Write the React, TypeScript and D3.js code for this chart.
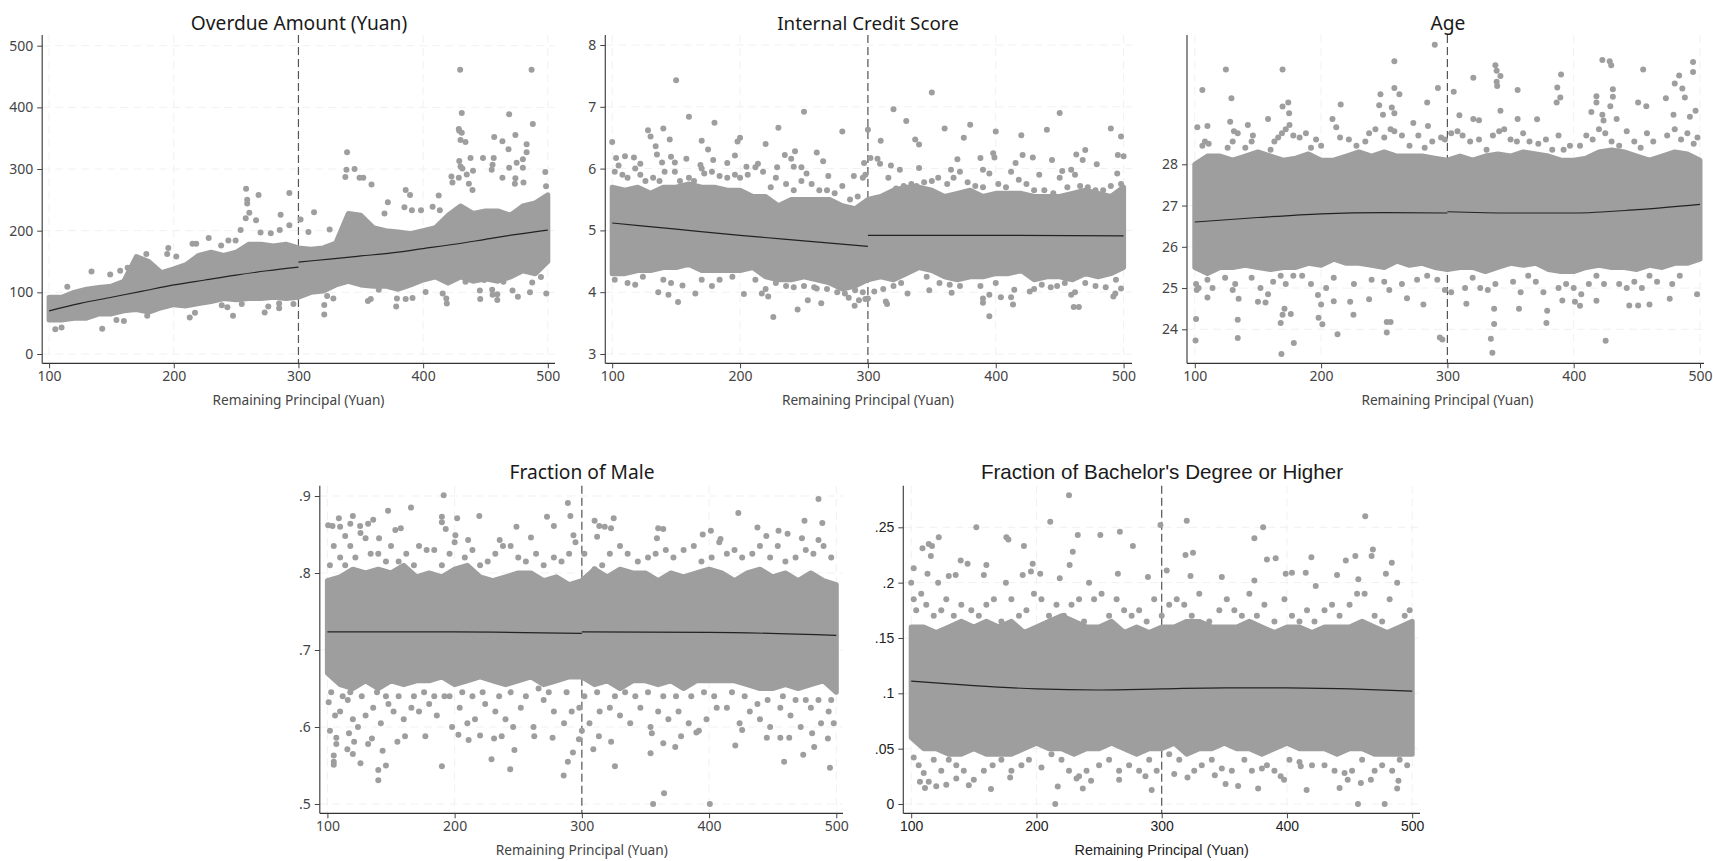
import React, { useEffect, useRef } from "react"
import * as d3 from "d3"

type Pt = [number, number]

const xTicks = [100, 200, 300, 400, 500]
const xLabel = "Remaining Principal (Yuan)"

const bandX = [100, 110, 120, 130, 140, 150, 160, 170, 180, 190, 200, 210, 220, 230, 240, 250, 260, 270, 280, 290, 300, 310, 320, 330, 340, 350, 360, 370, 380, 390, 400, 410, 420, 430, 440, 450, 460, 470, 480, 490, 500]

// ---- Overdue amount
const overdueTicks = [0, 100, 200, 300, 400, 500]
const overdueTickLabels = ["0", "100", "200", "300", "400", "500"]
const overdueBandHi = [92, 92, 100, 105, 108, 110, 118, 158, 150, 132, 138, 145, 160, 165, 160, 165, 178, 178, 175, 178, 172, 170, 172, 180, 228, 225, 205, 200, 198, 195, 200, 205, 225, 240, 228, 232, 232, 225, 240, 245, 258]
const overdueBandLo = [55, 55, 58, 58, 65, 65, 70, 72, 68, 75, 80, 78, 82, 85, 90, 88, 90, 90, 92, 90, 92, 100, 102, 112, 118, 112, 110, 110, 105, 112, 120, 125, 115, 125, 118, 122, 118, 125, 135, 130, 150]
const overdueFitL: Pt[] = [[100, 70], [125, 82], [150, 92], [175, 102], [200, 112], [225, 120], [250, 128], [275, 135], [300, 141]]
const overdueFitR: Pt[] = [[300, 149], [325, 154], [350, 159], [375, 164], [400, 171], [425, 178], [450, 186], [475, 194], [500, 201]]
const overduePts: Pt[] = [
  [429.7, 461], [487, 461], [431, 391], [469, 389], [488, 373], [428.6, 365], [429, 362], [431, 359], [474, 355], [457, 352], [463.6, 345], [430, 347], [434, 344], [483, 340], [468.5, 332], [483, 327], [339, 327], [438, 318], [448, 318], [456.6, 318], [480, 316], [429, 313], [475, 310], [455.7, 307], [430, 304], [469, 302], [455, 299], [480, 302], [431.5, 301], [338.5, 299], [345, 300], [440, 297], [498, 295], [435, 291], [337.6, 287], [422.7, 288], [428.6, 286], [463.6, 286], [349, 286], [352, 286], [474, 285], [480.5, 278], [423.5, 278], [358.6, 275], [436.7, 276], [473.6, 276], [439.6, 266], [258, 268], [268, 258], [292.7, 261], [386, 266], [389.5, 258], [412.5, 257], [498.6, 272], [258.9, 250], [258.9, 244], [260.6, 229], [312.5, 230], [285.7, 226], [257.7, 220], [266, 217], [301.7, 218], [371.7, 246], [385, 238], [369, 228], [391, 233], [398.3, 233], [407.6, 239], [413.4, 233], [325, 202], [308, 198], [253.6, 201], [269.6, 197], [277.8, 196], [285, 201], [292.7, 209], [228, 188], [215, 179], [218, 179], [195.6, 172], [238, 176], [243.8, 184], [249.6, 184], [134, 134], [149, 129], [114.6, 109], [157, 135], [163, 140], [178, 162], [194.7, 162], [202, 158],
  [105, 40], [110, 43], [142.6, 41], [154, 55], [160, 53.5], [178.7, 62], [212.8, 59], [217, 67], [238.5, 79], [243, 76], [247.5, 62], [254.5, 81], [272.9, 67.5], [275.8, 77], [284.5, 74], [284.5, 82], [296, 81], [320.7, 64], [320.7, 79.5], [323, 94], [328, 90], [355.7, 86], [358, 89], [364.4, 104], [378.4, 77], [379, 90], [386, 89], [391.5, 91], [402, 100.5], [419, 82], [418.6, 90], [415.7, 98], [445.8, 89], [445.5, 103], [455.4, 104], [455.7, 96], [459.5, 87.6], [459.5, 97], [471.7, 103], [476, 93], [485.7, 100], [498.8, 98], [487.5, 116], [494.5, 125], [464.4, 117], [449, 120], [434, 117],
]

// ---- Internal credit score
const creditTicks = [3, 4, 5, 6, 7, 8]
const creditTickLabels = ["3", "4", "5", "6", "7", "8"]
const creditBandHi = [5.7, 5.65, 5.7, 5.6, 5.7, 5.7, 5.75, 5.7, 5.7, 5.65, 5.65, 5.55, 5.55, 5.4, 5.5, 5.5, 5.5, 5.5, 5.4, 5.35, 5.5, 5.55, 5.65, 5.7, 5.7, 5.65, 5.55, 5.6, 5.65, 5.55, 5.6, 5.6, 5.6, 5.55, 5.55, 5.55, 5.6, 5.65, 5.6, 5.55, 5.7]
const creditBandLo = [4.3, 4.3, 4.35, 4.35, 4.4, 4.4, 4.45, 4.35, 4.35, 4.35, 4.35, 4.4, 4.25, 4.2, 4.2, 4.25, 4.2, 4.15, 4.05, 4.1, 4.2, 4.25, 4.2, 4.3, 4.4, 4.35, 4.25, 4.2, 4.25, 4.25, 4.3, 4.3, 4.35, 4.2, 4.25, 4.25, 4.2, 4.3, 4.25, 4.3, 4.4]
const creditFitL: Pt[] = [[100, 5.12], [150, 5.02], [200, 4.92], [250, 4.83], [300, 4.74]]
const creditFitR: Pt[] = [[300, 4.92], [400, 4.92], [500, 4.91]]
const creditPts: Pt[] = [
  [100, 6.43], [150, 7.43], [160, 6.84], [180, 6.74], [250, 6.92], [280, 6.6], [300, 6.63], [230, 6.66], [128, 6.62], [140, 6.65], [130, 6.52], [145, 6.47], [170, 6.45], [200, 6.5], [198, 6.44], [220, 6.4], [134, 6.36], [175, 6.31], [135, 6.23], [235, 6.22], [243, 6.28], [260, 6.26], [240, 6.16], [196, 6.21], [146, 6.19], [158, 6.16], [110, 6.2], [117, 6.18], [103, 6.17], [179, 6.14], [139, 6.1], [149, 6.1], [190, 6.09], [265, 6.12], [205, 6.03], [214, 6.08], [229, 6.02], [242, 6.03], [248, 6.02], [169, 6.06], [122, 6.08], [269, 5.88], [289, 5.88], [297, 6.09],
  [136, 4], [144, 3.96], [151.5, 3.84], [155, 4.11], [165, 3.98], [203, 3.97], [217, 3.98], [222, 3.93], [226, 3.6], [245, 3.72], [253, 3.87], [263.5, 3.82], [260, 4.06], [289.6, 3.78], [293, 3.87], [298, 3.89], [285, 3.91],
  [310, 6.45], [320, 6.96], [330, 6.77], [350, 7.23], [337, 6.47], [340, 6.39], [360, 6.65], [380, 6.71], [375, 6.5], [400, 6.6], [420, 6.54], [440, 6.63], [450, 6.9], [490, 6.65], [498, 6.52], [500, 6.2], [495.5, 6.22], [470, 6.3], [463, 6.23], [468, 6.14], [421, 6.22], [429, 6.18], [444, 6.14], [479, 6.07], [415.5, 6.09], [388, 6.17], [398, 6.25], [399, 6.18], [307.5, 6.16], [302, 6.17], [309.5, 6.08], [318, 6.05], [325, 5.98], [340, 6.01], [370, 6.15], [365, 5.98], [390, 5.98], [452, 5.96], [459, 5.98],
  [300, 3.9], [305, 4.01], [314, 3.85], [315, 3.81], [331, 3.98], [348, 4.03], [365.5, 3.99], [390, 3.9], [390, 3.83], [395, 3.96], [395, 3.61], [404, 3.92], [412, 3.92], [413.5, 3.8], [414.5, 4.04], [426.6, 4.01], [461, 3.76], [465, 3.76], [443, 4.08], [459, 3.96], [492, 3.93], [493.5, 3.98], [498, 4.06],
  [102, 5.95], [105, 6.05], [108, 5.9], [112, 5.85], [118, 6], [122, 5.9], [126, 5.8], [132, 5.85], [137, 5.8], [141, 5.95], [149, 5.95], [153, 5.8], [160, 5.85], [164, 5.8], [170, 6], [172, 5.92], [178, 5.95], [184, 5.88], [190, 5.85], [196, 5.9], [200, 5.85], [206, 5.9], [212, 6.02], [218, 5.95], [224, 5.7], [228, 5.85], [236, 5.75], [242, 5.65], [248, 5.8], [252, 5.92], [256, 5.75], [262, 5.65], [268, 5.65], [274, 5.6], [280, 5.72], [286, 5.5], [292, 5.55], [296, 5.85], [298, 5.9],
  [316, 5.85], [322, 5.68], [328, 5.72], [334, 5.75], [338, 5.72], [344, 5.78], [350, 5.8], [355, 5.85], [362, 5.75], [367, 5.85], [372, 5.95], [378, 5.78], [384, 5.72], [390, 5.7], [395, 5.92], [402, 5.75], [408, 5.7], [412, 5.95], [418, 5.82], [424, 5.75], [430, 5.65], [434, 5.9], [438, 5.65], [445, 5.6], [450, 5.85], [456, 5.7], [462, 5.9], [466, 5.72], [472, 5.7], [478, 5.65], [484, 5.65], [490, 5.72], [495, 5.92], [498, 5.75],
  [102, 4.2], [112, 4.15], [118, 4.12], [124, 4.25], [140, 4.2], [146, 4.15], [170, 4.2], [178, 4.1], [184, 4.2], [194, 4.25], [212, 4.2], [220, 4.05], [228, 4.15], [236, 4.1], [242, 4.08], [250, 4.1], [258, 4.08], [268, 4.05], [276, 4], [282, 3.98], [290, 4.03], [296, 4], [312, 4.05], [320, 4.1], [326, 4.15], [346, 4.25], [356, 4.15], [364, 4.12], [372, 4.1], [388, 4.1], [400, 4.15], [430, 4.05], [436, 4.12], [448, 4.1], [454, 4.15], [462, 4], [470, 4.15], [478, 4.1], [486, 4.08], [494, 4.2],
]

// ---- Age
const ageTicks = [24, 25, 26, 27, 28]
const ageTickLabels = ["24", "25", "26", "27", "28"]
const ageBandHi = [28, 28.2, 28.2, 28.1, 28.2, 28.3, 28.2, 28.1, 28.15, 28.25, 28.1, 28.1, 28.2, 28.3, 28.2, 28.3, 28.2, 28.2, 28.2, 28.15, 28.1, 28.2, 28.1, 28.2, 28.25, 28.2, 28.3, 28.25, 28.2, 28.1, 28.1, 28.15, 28.3, 28.35, 28.3, 28.2, 28.1, 28.2, 28.3, 28.25, 28.1]
const ageBandLo = [25.5, 25.35, 25.5, 25.5, 25.55, 25.5, 25.45, 25.5, 25.5, 25.6, 25.55, 25.7, 25.6, 25.6, 25.55, 25.5, 25.65, 25.55, 25.6, 25.5, 25.45, 25.5, 25.5, 25.4, 25.5, 25.6, 25.55, 25.6, 25.45, 25.4, 25.4, 25.5, 25.55, 25.5, 25.5, 25.45, 25.55, 25.5, 25.6, 25.6, 25.7]
const ageFitL: Pt[] = [[100, 26.6], [150, 26.71], [200, 26.8], [250, 26.83], [300, 26.82]]
const ageFitR: Pt[] = [[300, 26.85], [350, 26.82], [400, 26.82], [450, 26.9], [500, 27.03]]
const agePts: Pt[] = [
  [290, 30.9], [258, 30.5], [124.6, 30.3], [169.5, 30.3], [106, 29.8], [129, 29.6], [169.5, 29.4], [174, 29.5], [215.5, 29.45], [247, 29.7], [258, 29.85], [262, 29.7], [292.5, 29.85], [284, 29.5], [246, 29.43], [256, 29.38], [305, 29.76], [320.5, 30.1], [338, 30.4], [339, 30.27], [342, 30.14], [339, 30], [339.4, 29.9], [355.6, 29.8], [390, 30.18], [387, 29.86], [389.4, 29.62], [386.5, 29.5], [418, 29.65], [418, 29.5], [422.7, 30.53], [428.5, 30.5], [429.7, 30.4], [431, 29.82], [431, 29.64], [429, 29.41], [455, 30.3], [451, 29.5], [457.5, 29.41], [473, 29.6], [480, 29.96], [483.5, 30.15], [486, 29.84], [488, 29.62], [494.5, 30.48], [494.5, 30.24], [496.5, 29.3], [414, 29.27], [342, 29.3], [309.5, 29.19], [320.5, 29.1], [325, 29.07], [355.6, 29.1], [371, 29.09], [422.7, 29.2], [423.6, 29.06], [434, 29.1], [102, 28.9], [110, 28.93], [128, 29.03], [142, 28.95], [158, 29.1], [174.7, 29.24], [209, 29.1], [249, 29.2], [258, 29.24], [273, 29], [284.6, 28.93], [479, 29.2], [492, 29.15],
  [101, 24.25], [100.6, 23.73], [134, 24.23], [134, 23.79], [168.6, 23.4], [168, 24.15], [169.5, 24.35], [176, 24.37], [178.4, 23.67], [198, 24.28], [201, 24.12], [213, 23.88], [225.6, 24.35], [252, 23.92], [252, 24.18], [255, 24.18], [281, 24.6], [294, 23.8], [296, 23.75], [334.4, 23.77], [335.6, 23.43], [337, 24.13], [337, 24.5], [356.7, 24.5], [378.4, 24.15], [379, 24.45], [425.3, 23.72], [418, 24.69], [444, 24.58], [451, 24.58], [460, 24.6], [476, 24.74], [497.7, 24.85], [405, 24.57], [401, 24.67], [391, 24.7], [315, 24.62], [268, 24.75], [238, 24.73], [223, 24.67], [210, 24.68], [200, 24.6], [197.5, 24.83], [171, 24.5], [156, 24.65], [150, 24.67], [134.7, 24.74], [110, 24.77], [101.5, 24.95],
  [106, 28.45], [108, 28.55], [111, 28.5], [126, 28.4], [130, 28.55], [134, 28.75], [131, 28.8], [140, 28.4], [145, 28.55], [146, 28.7], [160, 28.35], [163, 28.55], [166, 28.65], [169, 28.75], [172, 28.85], [175, 28.95], [178, 28.7], [183, 28.65], [188, 28.75], [192, 28.4], [196, 28.6], [200, 28.45], [212, 28.9], [215, 28.65], [222, 28.6], [228, 28.45], [235, 28.55], [238, 28.75], [243, 28.85], [250, 28.65], [255, 28.85], [258, 28.8], [264, 28.7], [270, 28.45], [277, 28.7], [282, 28.4], [288, 28.55], [295, 28.65], [298, 28.6], [303, 28.75], [308, 28.8], [312, 28.7], [318, 28.55], [325, 28.6], [331, 28.35], [336, 28.7], [341, 28.8], [345, 28.85], [350, 28.6], [355, 28.55], [360, 28.75], [365, 28.55], [372, 28.5], [378, 28.6], [383, 28.35], [388, 28.7], [392, 28.35], [397, 28.45], [405, 28.45], [410, 28.7], [415, 28.6], [420, 28.85], [425, 28.75], [430, 28.55], [436, 28.45], [442, 28.8], [448, 28.55], [453, 28.4], [458, 28.75], [463, 28.55], [474, 28.7], [480, 28.85], [485, 28.6], [490, 28.75], [495, 28.5], [498, 28.65],
  [101, 25.1], [103, 25], [110, 25.2], [114, 25], [124, 25.25], [130, 24.95], [132, 25.1], [145, 25.25], [152, 25], [158, 24.85], [162, 25.15], [168, 25.3], [172, 25.1], [178, 25.3], [185, 25.3], [192, 25.1], [204, 25], [210, 25.25], [226, 25.1], [240, 25.2], [250, 25.15], [254, 24.95], [264, 25.1], [276, 25.2], [284, 25.3], [292, 25.2], [298, 24.95], [303, 24.9], [314, 25], [320, 25.25], [326, 25], [332, 24.95], [338, 25.1], [352, 25.15], [358, 24.9], [364, 25.3], [370, 25.15], [376, 24.9], [388, 25], [394, 25.1], [400, 25], [406, 24.85], [412, 25.1], [418, 25.3], [424, 25.1], [436, 25.1], [442, 25], [448, 25.15], [454, 25], [460, 25.3], [466, 25.15], [478, 25.1], [484, 25.3],
]

// ---- Fraction of male
const maleTicks = [0.5, 0.6, 0.7, 0.8, 0.9]
const maleTickLabels = [".5", ".6", ".7", ".8", ".9"]
const maleBandHi = [0.79, 0.795, 0.805, 0.8, 0.805, 0.8, 0.81, 0.795, 0.8, 0.795, 0.805, 0.81, 0.795, 0.79, 0.795, 0.8, 0.8, 0.79, 0.795, 0.785, 0.79, 0.805, 0.795, 0.805, 0.8, 0.8, 0.79, 0.8, 0.795, 0.8, 0.805, 0.8, 0.79, 0.8, 0.805, 0.795, 0.8, 0.79, 0.8, 0.79, 0.785]
const maleBandLo = [0.67, 0.655, 0.65, 0.66, 0.65, 0.66, 0.655, 0.66, 0.66, 0.665, 0.655, 0.66, 0.665, 0.66, 0.655, 0.66, 0.665, 0.655, 0.66, 0.665, 0.665, 0.655, 0.66, 0.65, 0.66, 0.66, 0.655, 0.66, 0.65, 0.66, 0.66, 0.66, 0.66, 0.655, 0.65, 0.65, 0.655, 0.65, 0.655, 0.66, 0.645]
const maleFitL: Pt[] = [[100, 0.7235], [200, 0.7235], [300, 0.7215]]
const maleFitR: Pt[] = [[300, 0.7235], [400, 0.723], [500, 0.719]]
const malePts: Pt[] = [
  [191.4, 0.901], [289, 0.891], [291, 0.874], [486, 0.896], [423, 0.878], [489, 0.865], [475, 0.868], [454.6, 0.855], [461.7, 0.851], [147.7, 0.881], [165.7, 0.885], [109, 0.871], [100.6, 0.862], [104, 0.861], [110, 0.86], [120, 0.874], [118, 0.864], [125.7, 0.861], [132, 0.864], [136, 0.869], [190, 0.873], [190, 0.866], [202, 0.871], [193, 0.857], [219.4, 0.874], [248.6, 0.86], [272.6, 0.873], [278, 0.861], [310, 0.868], [313.7, 0.861], [325, 0.871], [318, 0.86], [322.9, 0.858], [360, 0.858], [364, 0.857], [401.4, 0.855], [438, 0.859], [486, 0.843], [473, 0.845], [395, 0.85], [359, 0.845], [157.7, 0.858], [153.4, 0.856], [200.6, 0.849], [210.6, 0.843], [235.4, 0.843], [260, 0.846], [293.4, 0.849], [312, 0.847], [409, 0.844], [445, 0.848], [114, 0.848], [140.6, 0.845], [126, 0.852],
  [356, 0.5], [400.6, 0.5], [364.6, 0.514], [140, 0.531], [140, 0.544], [146, 0.55], [190, 0.549], [243.7, 0.545], [285.7, 0.537], [289, 0.555], [293, 0.567], [326, 0.549], [354, 0.566], [459, 0.555], [474, 0.564], [482.6, 0.574], [495, 0.547], [105, 0.551], [105, 0.555], [105, 0.563], [115.7, 0.571], [120, 0.565], [126, 0.553], [143.4, 0.569], [229, 0.558], [247, 0.57], [309, 0.571], [323, 0.581], [420.6, 0.576], [364, 0.579], [373.4, 0.574], [297.7, 0.584],
  [102, 0.595], [107, 0.578], [107, 0.586], [117, 0.592], [121, 0.581], [132, 0.578], [135, 0.585], [155, 0.581], [161, 0.588], [177, 0.588], [203, 0.59], [211, 0.583], [220, 0.589], [231, 0.585], [237, 0.588], [262.6, 0.588], [277, 0.586], [300, 0.595], [313.4, 0.588], [355, 0.592], [378, 0.588], [390, 0.593], [426, 0.596], [445.4, 0.586], [456, 0.586], [463, 0.586], [481, 0.592], [493.4, 0.585],
  [102, 0.81], [105, 0.835], [110, 0.82], [114, 0.81], [118, 0.835], [122, 0.82], [130, 0.845], [134, 0.825], [140, 0.825], [146, 0.815], [150, 0.835], [156, 0.815], [162, 0.825], [168, 0.81], [172, 0.835], [178, 0.83], [184, 0.83], [190, 0.81], [196, 0.825], [200, 0.84], [208, 0.82], [214, 0.83], [220, 0.81], [226, 0.815], [232, 0.825], [238, 0.835], [244, 0.835], [250, 0.82], [256, 0.815], [264, 0.825], [270, 0.81], [278, 0.82], [284, 0.815], [290, 0.825], [295, 0.84], [302, 0.825], [310, 0.805], [316, 0.81], [322, 0.825], [330, 0.835], [336, 0.825], [344, 0.815], [352, 0.82], [358, 0.825], [366, 0.83], [372, 0.82], [380, 0.83], [388, 0.835], [394, 0.815], [402, 0.82], [408, 0.84], [414, 0.825], [420, 0.83], [426, 0.82], [434, 0.825], [440, 0.835], [448, 0.82], [454, 0.835], [460, 0.815], [468, 0.82], [476, 0.83], [482, 0.825], [490, 0.835], [496, 0.82],
  [101, 0.632], [106, 0.615], [110, 0.62], [116, 0.635], [120, 0.61], [124, 0.6], [130, 0.615], [136, 0.625], [142, 0.605], [148, 0.63], [152, 0.62], [160, 0.61], [166, 0.625], [172, 0.62], [180, 0.63], [186, 0.615], [192, 0.64], [198, 0.6], [204, 0.625], [210, 0.605], [216, 0.61], [224, 0.63], [232, 0.62], [240, 0.61], [246, 0.6], [252, 0.625], [262, 0.6], [270, 0.635], [278, 0.62], [286, 0.605], [292, 0.62], [298, 0.625], [306, 0.605], [314, 0.62], [322, 0.625], [330, 0.615], [338, 0.605], [346, 0.625], [354, 0.6], [360, 0.62], [368, 0.61], [376, 0.62], [384, 0.605], [392, 0.595], [398, 0.61], [406, 0.625], [414, 0.625], [424, 0.605], [432, 0.62], [440, 0.61], [448, 0.6], [456, 0.625], [464, 0.615], [472, 0.6], [480, 0.625], [488, 0.605], [494, 0.62], [498, 0.605],
  [103, 0.645], [112, 0.64], [118, 0.645], [127, 0.64], [139, 0.645], [146, 0.64], [156, 0.64], [168, 0.64], [176, 0.645], [184, 0.64], [196, 0.64], [206, 0.645], [214, 0.64], [222, 0.645], [235, 0.64], [244, 0.645], [256, 0.64], [266, 0.65], [274, 0.645], [288, 0.645], [302, 0.64], [312, 0.645], [326, 0.64], [334, 0.645], [342, 0.64], [352, 0.645], [364, 0.64], [374, 0.64], [386, 0.64], [396, 0.645], [404, 0.64], [418, 0.645], [428, 0.64], [438, 0.63], [446, 0.635], [458, 0.64], [468, 0.635], [476, 0.635], [486, 0.635], [496, 0.635],
]

// ---- Fraction of bachelor's degree
const bachelorTicks = [0, 0.05, 0.1, 0.15, 0.2, 0.25]
const bachelorTickLabels = ["0", ".05", ".1", ".15", ".2", ".25"]
const bachelorBandHi = [0.16, 0.16, 0.155, 0.16, 0.165, 0.16, 0.165, 0.16, 0.165, 0.155, 0.16, 0.165, 0.17, 0.165, 0.16, 0.16, 0.165, 0.155, 0.16, 0.155, 0.16, 0.16, 0.165, 0.165, 0.16, 0.16, 0.16, 0.165, 0.16, 0.155, 0.16, 0.16, 0.155, 0.16, 0.16, 0.16, 0.165, 0.16, 0.155, 0.16, 0.165]
const bachelorBandLo = [0.06, 0.05, 0.05, 0.045, 0.045, 0.05, 0.045, 0.045, 0.045, 0.05, 0.055, 0.05, 0.05, 0.045, 0.05, 0.05, 0.055, 0.05, 0.045, 0.05, 0.05, 0.055, 0.045, 0.05, 0.05, 0.055, 0.05, 0.05, 0.045, 0.05, 0.055, 0.05, 0.05, 0.05, 0.045, 0.05, 0.05, 0.045, 0.045, 0.045, 0.045]
const bachelorFit: Pt[] = [[100, 0.111], [150, 0.107], [200, 0.104], [250, 0.103], [300, 0.104], [350, 0.105], [400, 0.105], [450, 0.104], [500, 0.102]]
const bachelorPts: Pt[] = [
  [226, 0.279], [462.5, 0.26], [320, 0.256], [211, 0.255], [152, 0.25], [299, 0.252], [381, 0.25], [266.6, 0.246], [233, 0.243], [251, 0.243], [122, 0.241], [176, 0.241], [177.6, 0.239], [374, 0.24], [190, 0.233], [277, 0.233], [114, 0.235], [116.6, 0.233], [109, 0.231], [468.6, 0.23], [115.7, 0.224], [229, 0.228], [319, 0.225], [325, 0.227], [419.5, 0.223], [467.6, 0.224], [454.6, 0.224], [447, 0.22], [384, 0.221], [391, 0.222], [483.7, 0.218], [102, 0.213], [139.5, 0.22], [145, 0.217], [160, 0.216], [197, 0.217], [226.5, 0.216], [304, 0.211], [113, 0.208], [130, 0.206], [135.5, 0.207], [158, 0.207], [189, 0.207], [195.6, 0.21], [203, 0.208], [265, 0.208], [289, 0.205], [348, 0.205], [323, 0.206], [399, 0.208], [404, 0.209], [415, 0.209], [423, 0.197], [440, 0.207], [457, 0.203], [479, 0.208], [374, 0.202], [218.6, 0.204], [242, 0.2], [175.6, 0.2], [100, 0.2], [121.5, 0.2],
  [215, 0], [456.7, 0], [478, 0], [292, 0.0127], [351, 0.018], [361, 0.0163], [377, 0.014], [415.7, 0.0127], [442, 0.0145], [459, 0.019], [488, 0.014], [489, 0.021], [237, 0.014], [217, 0.0157], [163.7, 0.0136], [111, 0.0145], [120, 0.016], [146, 0.017], [128, 0.0175], [243.6, 0.021], [266, 0.022], [287, 0.025], [310, 0.027], [320.6, 0.024], [342.4, 0.026], [395, 0.025], [397.7, 0.022], [448.5, 0.022], [467, 0.022], [107, 0.02], [136, 0.023], [179, 0.024], [232, 0.023], [411, 0.034], [380, 0.032],
  [102, 0.185], [104, 0.175], [108, 0.19], [112, 0.18], [118, 0.17], [124, 0.175], [128, 0.185], [134, 0.17], [140, 0.18], [148, 0.175], [154, 0.17], [160, 0.18], [166, 0.185], [172, 0.165], [180, 0.185], [186, 0.17], [192, 0.175], [198, 0.19], [204, 0.185], [210, 0.17], [216, 0.18], [222, 0.17], [228, 0.18], [234, 0.185], [238, 0.165], [246, 0.185], [252, 0.19], [258, 0.17], [264, 0.185], [270, 0.175], [276, 0.17], [282, 0.175], [288, 0.165], [294, 0.185], [300, 0.17], [306, 0.18], [312, 0.185], [318, 0.18], [324, 0.17], [330, 0.19], [338, 0.165], [346, 0.175], [352, 0.185], [358, 0.175], [364, 0.17], [370, 0.19], [376, 0.17], [382, 0.18], [390, 0.165], [398, 0.185], [404, 0.17], [410, 0.165], [416, 0.175], [422, 0.165], [430, 0.175], [436, 0.18], [442, 0.17], [450, 0.18], [456, 0.19], [462, 0.19], [470, 0.17], [476, 0.165], [482, 0.185], [488, 0.2], [494, 0.17], [498, 0.175],
  [102, 0.042], [106, 0.035], [110, 0.028], [114, 0.02], [118, 0.04], [124, 0.03], [130, 0.04], [136, 0.035], [142, 0.03], [150, 0.022], [158, 0.03], [165, 0.035], [172, 0.04], [180, 0.03], [188, 0.035], [194, 0.04], [204, 0.033], [212, 0.045], [220, 0.04], [226, 0.03], [234, 0.025], [240, 0.03], [250, 0.035], [258, 0.04], [266, 0.03], [274, 0.035], [282, 0.03], [290, 0.04], [296, 0.03], [306, 0.045], [314, 0.04], [326, 0.03], [332, 0.035], [340, 0.04], [348, 0.032], [356, 0.03], [366, 0.04], [372, 0.03], [384, 0.035], [390, 0.03], [402, 0.04], [410, 0.038], [420, 0.035], [430, 0.035], [438, 0.03], [446, 0.028], [452, 0.03], [460, 0.04], [470, 0.03], [476, 0.035], [484, 0.03], [490, 0.04], [496, 0.035],
]

const dotColor = "#9e9e9e"
const sansFont = "'Noto Sans', 'Open Sans', sans-serif"
const arialFont = "'Liberation Sans', Arial, sans-serif"

type PanelProps = {
  title: string
  font: string
  titleSize: number
  labelSize: number
  x100: number
  x500: number
  left: number
  right: number
  top: number
  bottom: number
  yDomain: [number, number]
  yRange: [number, number]
  ticks: number[]
  tickLabels: string[]
  bandHi: number[]
  bandLo: number[]
  pts: Pt[]
  fits: Pt[][]
  titleX: number
  titleY: number
  ink: string
}

const Panel = (p: PanelProps) => {
  const xAxisRef = useRef<SVGGElement>(null)
  const yAxisRef = useRef<SVGGElement>(null)

  const xScale = d3.scaleLinear().domain([100, 500]).range([p.x100, p.x500])
  const yScale = d3.scaleLinear().domain(p.yDomain).range(p.yRange)

  useEffect(() => {
    const bottomAxis = d3.axisBottom(xScale).tickValues(xTicks).tickSize(5).tickPadding(3).tickFormat(d3.format("d") as any)
    const leftAxis = d3.axisLeft(yScale).tickValues(p.ticks).tickSize(5).tickPadding(4)
      .tickFormat((_, i) => p.tickLabels[i])
    for (const [ref, axis] of [[xAxisRef, bottomAxis], [yAxisRef, leftAxis]] as any) {
      const g = d3.select(ref.current)
      g.call(axis)
      g.select(".domain").remove()
      g.selectAll("line").attr("stroke", "#444")
      g.selectAll("text").attr("font-family", p.font).attr("font-size", 14).attr("fill", p.ink)
    }
  }, [])

  // the dense middle of the cloud is drawn as one filled shape
  const band = d3.area<number>()
    .x((d) => xScale(d))
    .y0((_, i) => yScale(p.bandLo[i]))
    .y1((_, i) => yScale(p.bandHi[i]))
    .curve(d3.curveLinear)
  const fitLine = d3.line<Pt>()
    .x((d) => xScale(d[0]))
    .y((d) => yScale(d[1]))
    .curve(d3.curveMonotoneX)

  return (
    <g>
      {p.ticks.map((t) => (
        <line key={t} x1={p.left} x2={p.right} y1={yScale(t)} y2={yScale(t)} stroke="#f1f1f1" strokeWidth={1} strokeDasharray="8 5" />
      ))}
      {xTicks.map((t) => (
        <line key={t} x1={xScale(t)} x2={xScale(t)} y1={p.top} y2={p.bottom} stroke="#f1f1f1" strokeWidth={1} strokeDasharray="8 5" />
      ))}
      <line x1={xScale(300)} x2={xScale(300)} y1={p.top} y2={p.bottom} stroke="#555" strokeWidth={1.2} strokeDasharray="8 4" />
      <path d={band(bandX) ?? ""} fill={dotColor} stroke={dotColor} strokeWidth={5} strokeLinejoin="round" />
      {p.pts.map((d, i) => (
        <circle key={i} cx={xScale(d[0])} cy={yScale(d[1])} r={3} fill={dotColor} />
      ))}
      {p.fits.map((f, i) => (
        <path key={i} d={fitLine(f) ?? ""} fill="none" stroke="#222" strokeWidth={1.2} />
      ))}
      <line x1={p.left} x2={p.left} y1={p.top} y2={p.bottom} stroke="#444" strokeWidth={1.2} />
      <line x1={p.left} x2={p.right} y1={p.bottom} y2={p.bottom} stroke="#333" strokeWidth={1.2} />
      <g ref={xAxisRef} transform={`translate(0,${p.bottom})`} />
      <g ref={yAxisRef} transform={`translate(${p.left},0)`} />
      <text x={p.titleX} y={p.titleY} textAnchor="middle" fontFamily={p.font} fontSize={p.titleSize} fill="#1a1a1a">{p.title}</text>
      <text x={(p.x100 + p.x500) / 2} y={p.bottom + 41.7} textAnchor="middle" fontFamily={p.font} fontSize={p.labelSize} fill={p.ink}>{xLabel}</text>
    </g>
  )
}

const App = () => (
  <svg width={1713} height={861} style={{ position: "absolute", left: 0, top: 0, background: "#fff" }}>
    <Panel title="Overdue Amount (Yuan)" font={sansFont} titleSize={19.2} labelSize={13.7} ink="#444" x100={49.1} x500={547.8} left={42.2} right={555} top={35} bottom={363.3}
      yDomain={[0, 500]} yRange={[354, 45.7]} ticks={overdueTicks} tickLabels={overdueTickLabels}
      bandHi={overdueBandHi} bandLo={overdueBandLo} pts={overduePts} fits={[overdueFitL, overdueFitR]} titleX={299} titleY={30} />
    <Panel title="Internal Credit Score" font={sansFont} titleSize={18.8} labelSize={13.7} ink="#444" x100={612.2} x500={1123.6} left={605.3} right={1132} top={35} bottom={363.3}
      yDomain={[3, 8]} yRange={[354, 45]} ticks={creditTicks} tickLabels={creditTickLabels}
      bandHi={creditBandHi} bandLo={creditBandLo} pts={creditPts} fits={[creditFitL, creditFitR]} titleX={868} titleY={30} />
    <Panel title="Age" font={sansFont} titleSize={19.2} labelSize={13.7} ink="#444" x100={1194.8} x500={1700} left={1187} right={1704} top={35} bottom={363.3}
      yDomain={[24, 28]} yRange={[329.3, 164.3]} ticks={ageTicks} tickLabels={ageTickLabels}
      bandHi={ageBandHi} bandLo={ageBandLo} pts={agePts} fits={[ageFitL, ageFitR]} titleX={1448} titleY={30} />
    <Panel title="Fraction of Male" font={sansFont} titleSize={19.2} labelSize={13.7} ink="#444" x100={327.4} x500={836.3} left={319.8} right={843} top={485.7} bottom={813.3}
      yDomain={[0.5, 0.9]} yRange={[804, 496]} ticks={maleTicks} tickLabels={maleTickLabels}
      bandHi={maleBandHi} bandLo={maleBandLo} pts={malePts} fits={[maleFitL, maleFitR]} titleX={582} titleY={479} />
    <Panel title="Fraction of Bachelor's Degree or Higher" font={arialFont} titleSize={20.6} labelSize={14.4} ink="#222" x100={911.2} x500={1412.2} left={903.3} right={1420} top={485.7} bottom={813.3}
      yDomain={[0, 0.25]} yRange={[804, 527.3]} ticks={bachelorTicks} tickLabels={bachelorTickLabels}
      bandHi={bachelorBandHi} bandLo={bachelorBandLo} pts={bachelorPts} fits={[bachelorFit]} titleX={1162} titleY={479} />
  </svg>
)

export default App
